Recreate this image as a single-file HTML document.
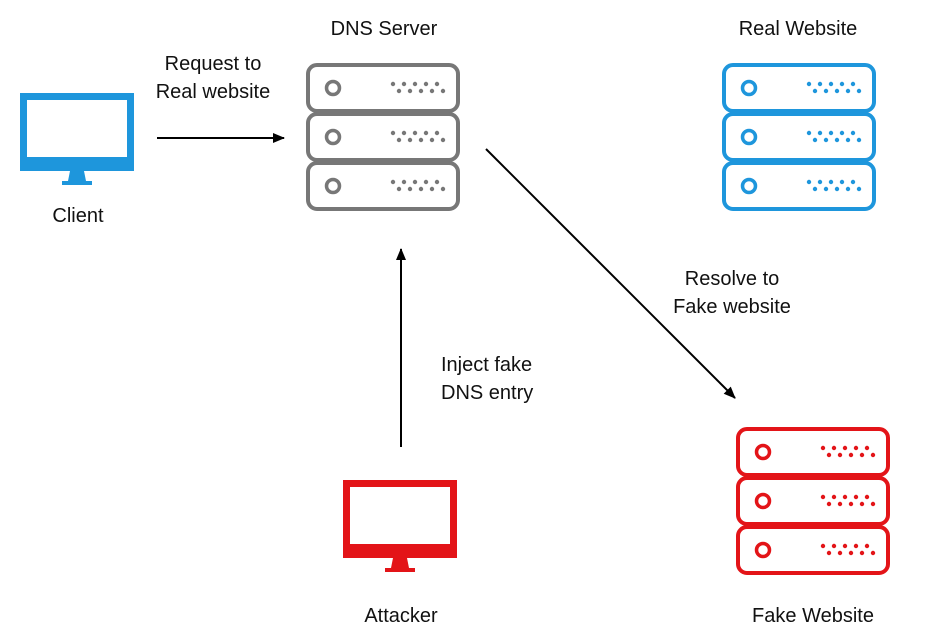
<!DOCTYPE html>
<html><head><meta charset="utf-8"><style>
html,body{margin:0;padding:0;background:#fff;}
svg{display:block;}
text{font-family:"Liberation Sans",Arial,sans-serif;font-size:20px;fill:#111;}
</style></head><body>
<svg width="945" height="640" viewBox="0 0 945 640" xmlns="http://www.w3.org/2000/svg">
<defs>
<marker id="ah" markerWidth="12" markerHeight="10" refX="11" refY="5" orient="auto" markerUnits="userSpaceOnUse" viewBox="0 0 12 10">
<path d="M0,0 L12,5 L0,10 Z" fill="#000"/>
</marker>
<g id="unit">
<rect x="2" y="2" width="150" height="46" rx="9" fill="none" stroke-width="4"/>
<circle cx="27" cy="25" r="6.5" fill="none" stroke-width="3.5"/>
<g stroke="none">
<circle cx="87" cy="21" r="2.2"/><circle cx="98" cy="21" r="2.2"/><circle cx="109" cy="21" r="2.2"/><circle cx="120" cy="21" r="2.2"/><circle cx="131" cy="21" r="2.2"/>
<circle cx="93" cy="28" r="2.2"/><circle cx="104" cy="28" r="2.2"/><circle cx="115" cy="28" r="2.2"/><circle cx="126" cy="28" r="2.2"/><circle cx="137" cy="28" r="2.2"/>
</g>
</g>
<g id="server">
<use href="#unit" y="0"/><use href="#unit" y="49"/><use href="#unit" y="98"/>
</g>
<g id="monitor">
<path fill-rule="evenodd" d="M0,0 H114 V78 H0 Z M7,7 V64 H107 V7 Z"/>
<path d="M50,78 H64 L66,88 H72 V92 H42 V88 H48 Z"/>
</g>
</defs>

<text x="384" y="35" text-anchor="middle">DNS Server</text>
<text x="798" y="35" text-anchor="middle">Real Website</text>
<text x="78" y="222" text-anchor="middle">Client</text>
<text x="401" y="622" text-anchor="middle">Attacker</text>
<text x="813" y="622" text-anchor="middle">Fake Website</text>
<text x="213" y="70" text-anchor="middle">Request to</text>
<text x="213" y="98" text-anchor="middle">Real website</text>
<text x="732" y="285" text-anchor="middle">Resolve to</text>
<text x="732" y="313" text-anchor="middle">Fake website</text>
<text x="441" y="371">Inject fake</text>
<text x="441" y="399">DNS entry</text>

<g fill="#777" stroke="#777"><use href="#server" x="306" y="63"/></g>
<g fill="#1e96dc" stroke="#1e96dc"><use href="#server" x="722" y="63"/></g>
<g fill="#e31418" stroke="#e31418"><use href="#server" x="736" y="427"/></g>

<g fill="#1e96dc"><use href="#monitor" x="20" y="93"/></g>
<g fill="#e31418"><use href="#monitor" x="343" y="480"/></g>

<g stroke="#000" stroke-width="2" fill="none">
<line x1="157" y1="138" x2="284" y2="138" marker-end="url(#ah)"/>
<line x1="401" y1="447" x2="401" y2="249" marker-end="url(#ah)"/>
<line x1="486" y1="149" x2="735" y2="398" marker-end="url(#ah)"/>
</g>
</svg>
</body></html>
